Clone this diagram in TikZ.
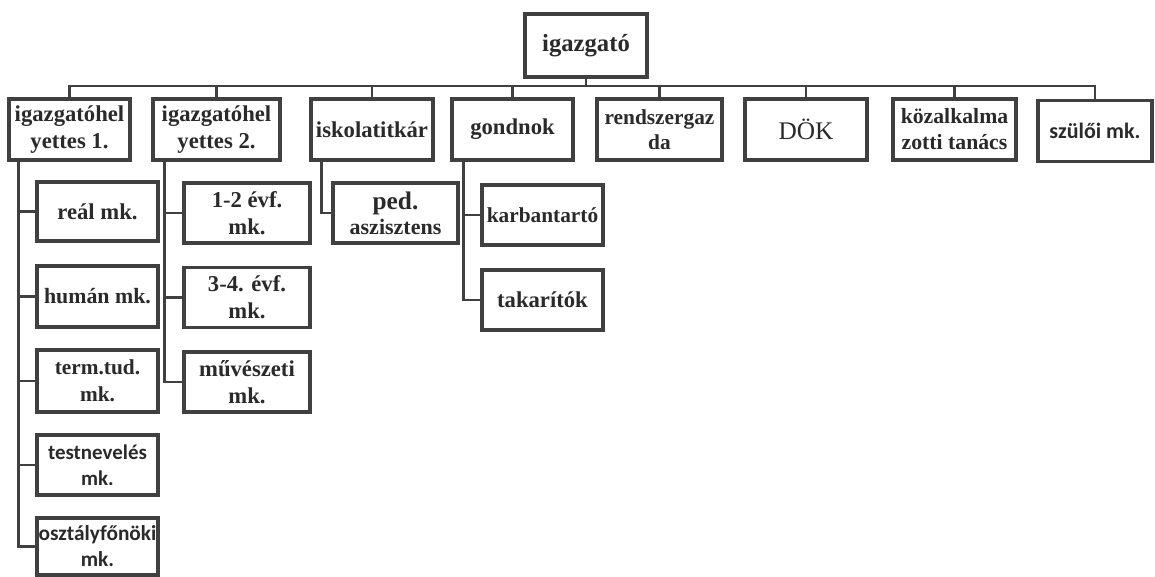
\documentclass[tikz,border=0pt]{standalone}
\usepackage{fontspec}
\setmainfont{Liberation Serif}
\newfontfamily\sansf{Carlito}
\usetikzlibrary{calc}
\definecolor{lc}{HTML}{404040}
\definecolor{tc}{HTML}{2A2A2A}
\begin{document}
\begin{tikzpicture}[x=0.75pt,y=-0.75pt,
  box/.style={draw=lc, line width=2.6pt, fill=white, inner sep=1pt, align=center,
    text=tc, font=\fontsize{17}{20.5}\selectfont\bfseries},
  sbox/.style={box, font=\fontsize{16}{19.5}\selectfont\sansf\bfseries},
  conn/.style={draw=lc, line width=2.2pt},
  l1/.style={box, minimum height=45.75pt}]
\useasboundingbox (0,0) rectangle (1155,577);
% top
\node[box, minimum width=91.5pt, minimum height=47.25pt, font=\fontsize{18.5}{21}\selectfont\bfseries] (top) at (586,45.5) {igazgató};
% level 1
\node[l1, minimum width=90.75pt] (igh1) at (69.5,129.5) {igazgatóhel\\yettes 1.};
\node[l1, minimum width=95.25pt] (igh2) at (216.5,129.5) {igazgatóhel\\yettes 2.};
\node[l1, minimum width=91.5pt] (isk) at (372,129.5) {iskolatitkár};
\node[l1, minimum width=90.75pt] (gond) at (512.5,129.5) {gondnok};
\node[l1, minimum width=93.75pt, font=\fontsize{16}{19}\selectfont\bfseries] (rend) at (659.5,129.5) {rendszergaz\\da};
\node[l1, minimum width=91.5pt, font=\fontsize{19}{21}\selectfont] (dok) at (806,129.5) {DÖK};
\node[l1, minimum width=92.25pt, font=\fontsize{16.3}{19.5}\selectfont\bfseries] (koz) at (954.5,129.5) {közalkalma\\zotti tanács};
\node[sbox, minimum width=85.5pt, minimum height=45.75pt, font=\fontsize{16.5}{19}\selectfont\sansf\bfseries] (szul) at (1095,131) {szülői mk.};
% column 1
\node[box, minimum width=90.75pt, minimum height=44.25pt] (real) at (97.5,211.5) {reál mk.};
\node[box, minimum width=90.75pt, minimum height=45.75pt, font=\fontsize{16.4}{20}\selectfont\bfseries] (human) at (97.5,296.5) {humán mk.};
\node[box, minimum width=90.75pt, minimum height=46.5pt, font=\fontsize{16}{20.5}\selectfont\bfseries] (term) at (97.5,381) {term.tud.\\mk.};
\node[sbox, minimum width=90.75pt, minimum height=45pt, font=\fontsize{15.7}{19.5}\selectfont\sansf\bfseries] (test) at (97.5,465) {testnevelés\\mk.};
\node[sbox, minimum width=90.75pt, minimum height=42.75pt] (osz) at (97.5,546.5) {osztályfőnöki\\mk.};
% column 2
\node[box, minimum width=94.5pt, minimum height=45pt] (evf12) at (247,213) {1-2 évf.\\mk.};
\node[box, minimum width=94.5pt, minimum height=45pt] (evf34) at (247,297.5) {3-4. évf.\\mk.};
\node[box, minimum width=94.5pt, minimum height=45pt] (muv) at (247,382) {művészeti\\mk.};
% other children
\node[box, minimum width=93.75pt, minimum height=45pt, font=\fontsize{19}{19}\selectfont\bfseries] (ped) at (395.5,213) {ped.\\{\fontsize{16.5}{19}\selectfont aszisztens}};
\node[box, minimum width=90.75pt, minimum height=45pt, font=\fontsize{16}{20}\selectfont\bfseries] (karb) at (542.5,215) {karbantartó};
\node[box, minimum width=90.75pt, minimum height=45pt] (tak) at (542.5,300) {takarítók};
% bus
\coordinate (bus) at (586,86);
\draw[conn] (top.south) -- (bus);
\foreach \n in {igh1,igh2,isk,gond,rend,dok,koz,szul}
  \draw[conn] (bus) -| (\n.north);
% vertical branch lines
\coordinate (v1) at ($(igh1.south west)+(11,0)$);
\coordinate (v2) at ($(igh2.south west)+(13,0)$);
\coordinate (v3) at ($(isk.south west)+(12,0)$);
\coordinate (v4) at ($(gond.south west)+(13,0)$);
\foreach \n in {real,human,term,test,osz}
  \draw[conn] (v1) |- (\n.west);
\foreach \n in {evf12,evf34,muv}
  \draw[conn] (v2) |- (\n.west);
\draw[conn] (v3) |- (ped.west);
\foreach \n in {karb,tak}
  \draw[conn] (v4) |- (\n.west);
\end{tikzpicture}
\end{document}
